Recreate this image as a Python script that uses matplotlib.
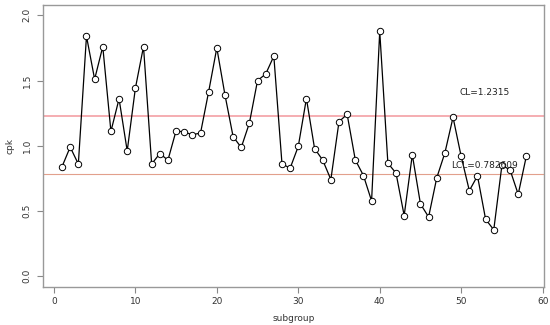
"""Cpk control chart by subgroup with CL / LCL reference lines."""

import matplotlib

matplotlib.use("Agg")
import matplotlib.pyplot as plt
import numpy as np

subgroup = np.arange(1, 59)
cpk = [
    0.84, 0.99, 0.86, 1.84, 1.51, 1.76, 1.11, 1.36, 0.96, 1.44,
    1.76, 0.86, 0.94, 0.89, 1.115, 1.105, 1.085, 1.097, 1.415, 1.75,
    1.39, 1.07, 0.987, 1.174, 1.50, 1.55, 1.687, 0.862, 0.828, 0.995,
    1.362, 0.979, 0.89, 0.741, 1.185, 1.241, 0.892, 0.772, 0.577, 1.877,
    0.867, 0.79, 0.465, 0.931, 0.554, 0.454, 0.754, 0.946, 1.218, 0.918,
    0.656, 0.769, 0.436, 0.356, 0.851, 0.815, 0.628, 0.921,
]
cl = 1.2315
lcl = 0.782609

fig = plt.figure(figsize=(5.5, 3.25), dpi=100)
ax = fig.add_axes([0.078, 0.118, 0.911, 0.867])

ax.axhline(cl, color="#f4a0a4", lw=1.2, zorder=1)
ax.axhline(lcl, color="#e2a08c", lw=0.8, zorder=1)
ax.plot(subgroup, cpk, color="black", lw=0.9, marker="o", ms=4.6,
        mfc="white", mec="black", mew=0.7, zorder=3)

ax.text(52.9, 1.405, f"CL={cl}", fontsize=6.5, ha="center", va="center", color="#222")
ax.text(52.9, 0.846, f"LCL={lcl}", fontsize=6.5, ha="center", va="center", color="#222")

ax.set_xlim(-1.35, 60.16)
ax.set_ylim(-0.08, 2.08)
ax.set_xticks([0, 10, 20, 30, 40, 50, 60])
ax.set_yticks([0.0, 0.5, 1.0, 1.5, 2.0])
ax.set_yticklabels(["0.0", "0.5", "1.0", "1.5", "2.0"], rotation=90, va="center")
ax.tick_params(labelsize=6.5, labelcolor="#333", color="#888", length=4, width=0.8)
ax.tick_params(axis="y", pad=4)
for s in ax.spines.values():
    s.set_color("#999")
    s.set_linewidth(1.0)

ax.set_xlabel("subgroup", fontsize=6.5, color="#333", labelpad=6)
ax.set_ylabel("cpk", fontsize=6.5, color="#333", labelpad=6)

fig.savefig("out.png", dpi=100)
plt.close(fig)
